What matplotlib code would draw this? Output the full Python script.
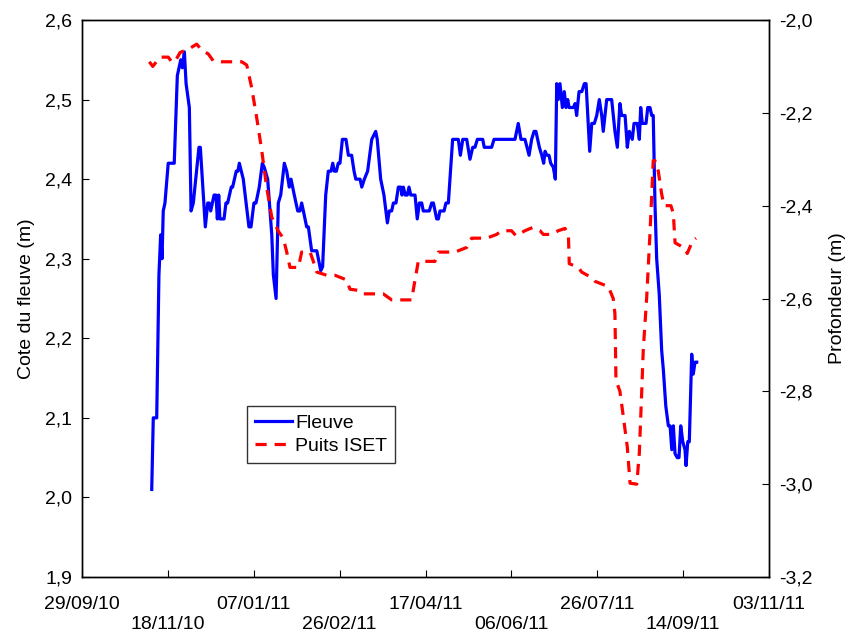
import numpy as np
import matplotlib
matplotlib.use("Agg")
import matplotlib.pyplot as plt
import matplotlib.dates as mdates
from datetime import datetime, timedelta

plt.rcParams['font.family'] = ['Liberation Sans', 'DejaVu Sans']

start = datetime(2010, 9, 29)
end = datetime(2011, 11, 3)

# Fleuve (left axis) : days since 29/09/10, level (m)
fleuve_day = [40.6, 41.5, 43.5, 44.8, 45.8, 46.6, 47.3, 48.3, 50.2, 53.7, 55.5, 57.5, 58.4, 59.6,
              60.6, 62.5, 63.5, 64.8, 68.1, 68.9, 71.8, 73.2, 74.1, 74.9, 76.9, 78.0, 78.8, 79.6,
              80.3, 82.7, 83.8, 84.8, 86.9, 87.7, 89.8, 90.8, 91.6, 93.9, 97.2, 98.4, 100.1, 101.3,
              103.2, 105.0, 106.1, 108.1, 110.5, 111.4, 113.0, 114.3, 115.7, 117.8, 119.2, 120.7,
              121.7, 123.6, 125.6, 126.9, 127.9, 128.9, 130.8, 131.8, 133.7, 134.7, 136.7, 137.6,
              139.0, 140.1, 141.9, 143.4, 145.0, 146.0, 146.9, 148.1, 149.2, 150.2, 151.6, 153.7,
              155.1, 157.0, 158.4, 159.4, 161.9, 162.9, 164.4, 166.3, 168.7, 171.0, 171.9, 173.9,
              175.8, 177.8, 178.9, 180.3, 181.3, 182.8, 184.2, 185.6, 186.3, 187.1, 188.2, 189.4,
              190.4, 191.4, 193.9, 195.2, 196.4, 197.8, 198.7, 202.2, 203.6, 204.6, 206.5, 207.5,
              208.4, 210.8, 211.9, 213.3, 215.8, 219.1, 220.3, 221.7, 224.0, 225.9, 227.5, 228.8,
              230.2, 233.3, 234.2, 238.5, 239.9, 252.1, 254.0, 255.6, 257.9, 260.3, 261.8, 263.2,
              264.3, 266.3, 267.7, 268.8, 269.6, 270.7, 271.9, 272.9, 274.4, 275.6, 276.4, 277.3,
              278.3, 279.7, 280.8, 281.8, 282.8, 283.6, 286.1, 287.1, 288.0, 289.4, 291.0, 292.5,
              293.5, 295.6, 296.8, 298.3, 299.7, 301.2, 302.6, 303.5, 305.5, 308.4, 310.3, 311.7,
              313.2, 314.2, 316.2, 317.5, 318.7, 320.4, 321.4, 323.3, 324.5, 325.3, 326.2, 328.4,
              329.4, 330.7, 331.7, 332.6, 333.6, 334.6, 336.1, 337.5, 338.5, 339.9, 341.4, 342.4,
              343.4, 344.3, 345.3, 346.6, 347.6, 348.6, 349.8, 351.1, 351.7, 352.7, 353.6, 355.0,
              355.9, 356.9, 357.9]
fleuve_val = [2.01, 2.10, 2.10, 2.28, 2.33, 2.30, 2.36, 2.37, 2.42, 2.42, 2.53, 2.55, 2.54, 2.56,
              2.52, 2.49, 2.36, 2.37, 2.44, 2.44, 2.34, 2.37, 2.37, 2.36, 2.38, 2.38, 2.35, 2.38,
              2.35, 2.35, 2.37, 2.37, 2.39, 2.39, 2.41, 2.41, 2.42, 2.40, 2.34, 2.34, 2.37, 2.37,
              2.39, 2.42, 2.415, 2.40, 2.33, 2.28, 2.25, 2.37, 2.38, 2.42, 2.41, 2.39,
              2.40, 2.38, 2.36, 2.36, 2.37, 2.36, 2.34, 2.34, 2.31, 2.31, 2.31, 2.30,
              2.285, 2.29, 2.38, 2.41, 2.41, 2.42, 2.41, 2.41, 2.42, 2.42, 2.45, 2.45,
              2.43, 2.43, 2.41, 2.40, 2.40, 2.39, 2.40, 2.41, 2.45, 2.46, 2.45, 2.40,
              2.38, 2.345, 2.36, 2.36, 2.37, 2.37, 2.39, 2.39, 2.38, 2.39, 2.38, 2.38,
              2.39, 2.38, 2.38, 2.35, 2.37, 2.37, 2.36, 2.36, 2.37, 2.37, 2.35, 2.35,
              2.36, 2.36, 2.37, 2.37, 2.45, 2.45, 2.43, 2.45, 2.45, 2.425, 2.44, 2.44,
              2.45, 2.45, 2.44, 2.44, 2.45, 2.45, 2.47, 2.45, 2.45, 2.43, 2.45, 2.46,
              2.46, 2.44, 2.43, 2.42, 2.435, 2.43, 2.43, 2.42, 2.415, 2.40, 2.52, 2.50,
              2.52, 2.49, 2.51, 2.49, 2.50, 2.49, 2.49, 2.495, 2.48, 2.51, 2.51, 2.52,
              2.52, 2.435, 2.47, 2.47, 2.48, 2.50, 2.48, 2.46, 2.50, 2.50, 2.46, 2.44,
              2.495, 2.48, 2.48, 2.44, 2.46, 2.45, 2.47, 2.47, 2.45, 2.49, 2.47, 2.47,
              2.49, 2.49, 2.48, 2.48, 2.37, 2.30, 2.255, 2.185, 2.16, 2.115, 2.09, 2.09,
              2.06, 2.09, 2.055, 2.05, 2.05, 2.09, 2.07, 2.06, 2.04, 2.07, 2.07, 2.18,
              2.155, 2.17, 2.17]

# Puits ISET (right axis) : days since 29/09/10, depth (m)
puits_day = [39.2, 41.2, 45.4, 50.2, 52.2, 54.1, 57.1, 61.9, 66.8, 69.7, 73.5, 76.4, 81.3, 93.0,
             95.9, 98.8, 101.7, 104.6, 107.5, 110.5, 114.3, 117.2, 119.2, 121.1, 126.0, 127.9,
             132.8, 134.7, 136.7, 142.5, 147.3, 154.1, 156.0, 161.9, 163.8, 175.4, 180.3, 191.9,
             193.9, 195.8, 205.5, 207.5, 217.2, 224.0, 226.9, 235.6, 241.4, 244.3, 250.1, 252.7,
             257.9, 262.4, 266.7, 268.6, 273.5, 277.3, 281.2, 283.2, 283.7, 289.0, 290.9, 296.7,
             298.7, 303.5, 306.4, 309.3, 310.3, 310.9, 313.2, 315.2, 317.5, 319.1, 323.0, 324.5,
             325.9, 326.8, 328.8, 330.7, 332.6, 333.6, 335.5, 337.5, 338.9, 342.9, 344.3, 345.3,
             348.2, 351.1, 352.4, 355.6, 357.5]
puits_val = [-2.09, -2.10, -2.08, -2.08, -2.09, -2.09, -2.07, -2.063, -2.052, -2.065, -2.073,
             -2.088, -2.09, -2.09, -2.097, -2.146, -2.21, -2.28, -2.36, -2.425, -2.455, -2.47,
             -2.50, -2.533, -2.533, -2.50, -2.50, -2.52, -2.543, -2.55, -2.55, -2.56, -2.58,
             -2.583, -2.59, -2.59, -2.603, -2.603, -2.56, -2.52, -2.52, -2.50, -2.50, -2.49,
             -2.47, -2.47, -2.462, -2.454, -2.454, -2.465, -2.454, -2.447, -2.454, -2.462,
             -2.462, -2.454, -2.449, -2.462, -2.525, -2.533, -2.543, -2.555, -2.563, -2.57,
             -2.574, -2.60, -2.633, -2.776, -2.80, -2.855, -2.92, -2.998, -3.0, -2.933, -2.80,
             -2.71, -2.597, -2.46, -2.303, -2.303, -2.325, -2.375, -2.40, -2.40, -2.417, -2.48,
             -2.486, -2.493, -2.503, -2.475, -2.47]

tick_dates = ['29/09/10', '18/11/10', '07/01/11', '26/02/11', '17/04/11',
              '06/06/11', '26/07/11', '14/09/11', '03/11/11']
left_ticks = [1.9, 2.0, 2.1, 2.2, 2.3, 2.4, 2.5, 2.6]
right_ticks = [-3.2, -3.0, -2.8, -2.6, -2.4, -2.2, -2.0]

fig = plt.figure(figsize=(8.49, 6.32), dpi=100)
ax = fig.add_axes([82/849, 1 - 577/632, (769-82)/849, (577-20)/632])
ax2 = ax.twinx()

fx = [start + timedelta(days=d) for d in fleuve_day]
px = [start + timedelta(days=d) for d in puits_day]

l1, = ax.plot(fx, fleuve_val, color='#0000ff', lw=2.3, label='Fleuve')
l2, = ax2.plot(px, puits_val, color='#ff0000', lw=2.3, dashes=(3.5, 2.5), label='Puits ISET')

ax.set_xlim(start, end)
ax.set_ylim(1.9, 2.6)
ax2.set_ylim(-3.2, -2.0)

tpos = [datetime.strptime(t, '%d/%m/%y') for t in tick_dates]
ax.set_xticks(tpos)
ax.set_xticklabels([t if i % 2 == 0 else '\n' + t for i, t in enumerate(tick_dates)])
for t in ax.get_xticklabels():
    t.set_linespacing(1.2)
ax.set_yticks(left_ticks)
ax.set_yticklabels([f'{v:.1f}'.replace('.', ',') for v in left_ticks])
ax2.set_yticks(right_ticks)
ax2.set_yticklabels([f'{v:.1f}'.replace('.', ',') for v in right_ticks])

fs = 14
ax.tick_params(axis='x', direction='in', length=5, labelsize=fs, pad=14)
ax.tick_params(axis='y', direction='in', length=5, labelsize=fs, pad=7)
ax2.tick_params(axis='y', direction='in', length=5, labelsize=fs, pad=7)
for a in (ax, ax2):
    for s in a.spines.values():
        s.set_linewidth(1.0)

ax.set_ylabel('Cote du fleuve (m)', fontsize=fs, labelpad=7)
ax2.set_ylabel('Profondeur (m)', fontsize=fs, labelpad=12)

leg = ax.legend(handles=[l1, l2], loc='lower left', bbox_to_anchor=(0.24, 0.205),
                fontsize=fs, frameon=True, fancybox=False, edgecolor='black',
                handlelength=1.9, handletextpad=0.2, borderpad=0.4, labelspacing=0.3,
                borderaxespad=0)
leg.get_frame().set_linewidth(1.0)

fig.savefig('out.png', dpi=100)
